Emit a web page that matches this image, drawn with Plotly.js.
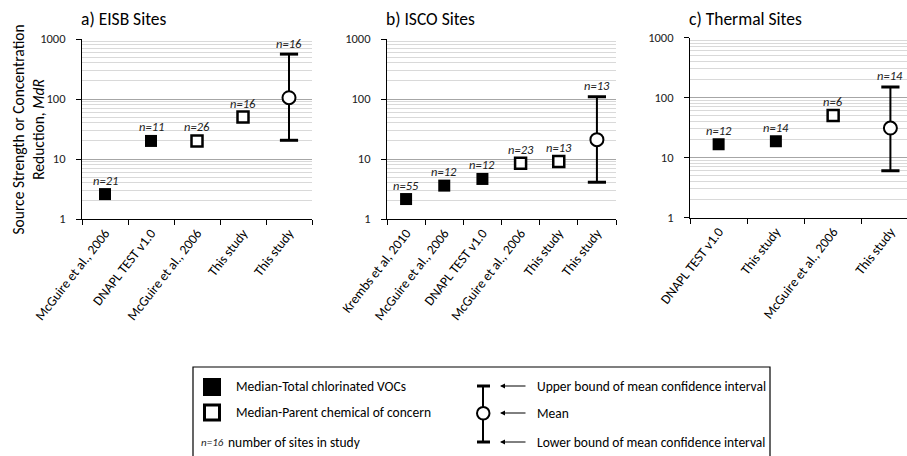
<!DOCTYPE html>
<html>
<head>
<meta charset="utf-8">
<script src="https://cdn.plot.ly/plotly-3.0.1.min.js"></script>
<style>html,body{margin:0;padding:0;background:#fff;}#chart{width:907px;height:456px;}</style>
</head>
<body>
<div id="chart"></div>
<script>
// ---- data ----
const catsA = ["McGuire et al., 2006", "DNAPL TEST v1.0", "McGuire et al., 2006", "This study", "This study"];
const typesA = ["total", "total", "parent", "parent", "mean"];
const valsA = [2.6, 20, 20, 50, 105];
const upperA = [null, null, null, null, 560];
const lowerA = [null, null, null, null, 20.5];
const nA = [21, 11, 26, 16, 16];

const catsB = ["Krembs et al, 2010", "McGuire et al., 2006", "DNAPL TEST v1.0", "McGuire et al., 2006", "This study", "This study"];
const typesB = ["total", "total", "total", "parent", "parent", "mean"];
const valsB = [2.15, 3.6, 4.65, 8.5, 9.1, 21];
const upperB = [null, null, null, null, null, 109];
const lowerB = [null, null, null, null, null, 4.1];
const nB = [55, 12, 12, 23, 13, 13];

const catsC = ["DNAPL TEST v1.0", "This study", "McGuire et al., 2006", "This study"];
const typesC = ["total", "total", "parent", "mean"];
const valsC = [16.7, 18.7, 50, 31];
const upperC = [null, null, null, 150];
const lowerC = [null, null, null, 6];
const nC = [12, 14, 6, 14];

const panelTitles = ["a) EISB Sites", "b) ISCO Sites", "c) Thermal Sites"];
const yTickVals = [1, 10, 100, 1000];
const yTickText = ["1", "10", "100", "1000"];
const yTitle = "Source Strength or Concentration<br>Reduction, <i>MdR</i>";
const legendTexts = ["Median-Total chlorinated VOCs", "Median-Parent chemical of concern", "number of sites in study"];
const legendN = "n=16";
const legendBounds = ["Upper bound of mean confidence interval", "Mean", "Lower bound of mean confidence interval"];

// ---- helpers ----
const W = 907, H = 456;
const px = x => x / W;
const py = y => 1 - y / H;
const FONT = "Carlito, Lato, 'Open Sans', sans-serif";
const minorVals = [];
[1, 10, 100].forEach(d => { for (let k = 2; k <= 9; k++) minorVals.push(k * d); });

const panels = [
  {cats: catsA, types: typesA, vals: valsA, up: upperA, lo: lowerA, n: nA, xd: [82, 312], yd: [39, 219], xmax: null},
  {cats: catsB, types: typesB, vals: valsB, up: upperB, lo: lowerB, n: nB, xd: [387, 616], yd: [39, 219], xmax: null},
  {cats: catsC, types: typesC, vals: valsC, up: upperC, lo: lowerC, n: nC, xd: [690, 907], yd: [37.5, 217.5], xmax: 3.29}
];

const traces = [];
const annotations = [];
const layout = {
  width: W, height: H,
  margin: {l: 0, r: 0, t: 0, b: 0},
  paper_bgcolor: "#fff", plot_bgcolor: "#fff",
  showlegend: false,
  font: {family: FONT, color: "#000"},
  shapes: [],
  annotations: annotations
};

panels.forEach((p, i) => {
  const sfx = i === 0 ? "" : String(i + 1);
  const xa = "x" + sfx, ya = "y" + sfx;
  const idx = p.cats.map((_, j) => j);
  const pick = t => idx.filter(j => p.types[j] === t);

  const tot = pick("total"), par = pick("parent"), mean = pick("mean");
  traces.push({
    type: "scatter", mode: "markers", xaxis: xa, yaxis: ya,
    x: tot, y: tot.map(j => p.vals[j]),
    marker: {symbol: "square", size: 12, color: "#000", line: {width: 0}},
    hoverinfo: "skip"
  });
  traces.push({
    type: "scatter", mode: "markers", xaxis: xa, yaxis: ya,
    x: par, y: par.map(j => p.vals[j]),
    marker: {symbol: "square", size: 11, color: "#fff", line: {width: 2.5, color: "#000"}},
    hoverinfo: "skip"
  });
  // confidence-interval caps (thicker than the stem)
  traces.push({
    type: "scatter", mode: "markers", xaxis: xa, yaxis: ya,
    x: mean.concat(mean), y: mean.map(j => p.up[j]).concat(mean.map(j => p.lo[j])),
    marker: {symbol: "line-ew", size: 13, line: {width: 3, color: "#000"}},
    hoverinfo: "skip"
  });
  traces.push({
    type: "scatter", mode: "markers", xaxis: xa, yaxis: ya,
    x: mean, y: mean.map(j => p.vals[j]),
    marker: {symbol: "circle", size: 13, color: "#fff", line: {width: 2, color: "#000"}},
    error_y: {type: "data", symmetric: false,
      array: mean.map(j => p.up[j] - p.vals[j]),
      arrayminus: mean.map(j => p.vals[j] - p.lo[j]),
      color: "#000", thickness: 2, width: 0},
    hoverinfo: "skip"
  });

  const nCat = p.cats.length;
  const xmax = p.xmax !== null ? p.xmax : nCat - 0.5;
  const bounds = [];
  for (let b = -0.5; b <= xmax + 1e-9; b += 1) bounds.push(b);

  layout["xaxis" + sfx] = {
    domain: [px(p.xd[0]), px(p.xd[1])], anchor: ya,
    range: [-0.5, xmax], fixedrange: true,
    tickmode: "array", tickvals: idx, ticktext: p.cats,
    ticks: "", tickangle: -52,
    tickfont: {family: FONT, size: 13.5, color: "#000"},
    showline: true, linecolor: "#000", linewidth: 1,
    showgrid: false, zeroline: false,
    minor: {tickmode: "array", tickvals: bounds, ticks: "outside", ticklen: 5, tickcolor: "#000", tickwidth: 1, showgrid: false}
  };
  layout["yaxis" + sfx] = {
    domain: [py(p.yd[1]), py(p.yd[0])], anchor: xa,
    type: "log", range: [0, 3], fixedrange: true,
    tickmode: "array", tickvals: yTickVals, ticktext: yTickText,
    ticks: "outside", ticklen: 5, tickcolor: "#000", tickwidth: 1,
    ticklabelstandoff: 8,
    tickfont: {family: FONT, size: 12.5, color: "#222"},
    showline: true, linecolor: "#000", linewidth: 1,
    showgrid: true, gridcolor: "#a6a6a6", gridwidth: 1, zeroline: false,
    minor: {tickmode: "array", tickvals: minorVals, ticks: "", showgrid: true, gridcolor: "#d9d9d9", gridwidth: 1}
  };

  // n labels
  idx.forEach(j => {
    const isMean = p.types[j] === "mean";
    const anchorVal = isMean ? p.up[j] : p.vals[j];
    annotations.push({
      xref: xa, yref: ya, x: j, y: Math.log10(anchorVal),
      text: "<i>n=" + p.n[j] + "</i>", showarrow: false,
      yanchor: "middle", yshift: isMean ? 11 : 14,
      font: {family: FONT, size: 12.5, color: "#222"}
    });
  });

  // panel title
  annotations.push({
    xref: "paper", yref: "paper", x: px(p.xd[0] - 3), y: py(19),
    xanchor: "left", yanchor: "middle", showarrow: false,
    text: panelTitles[i], font: {family: FONT, size: 17.5, color: "#000"}
  });
});

// y axis title
annotations.push({
  xref: "paper", yref: "paper", x: px(27.5), y: py(130),
  xanchor: "center", yanchor: "middle", textangle: -90, showarrow: false,
  text: yTitle, font: {family: FONT, size: 15.5, color: "#000"}
});

// ---- legend box ----
const S = layout.shapes;
S.push({type: "rect", xref: "paper", yref: "paper", x0: px(193), x1: px(770), y0: py(367), y1: py(470), line: {color: "#000", width: 1.2}, fillcolor: "rgba(0,0,0,0)"});
S.push({type: "rect", xref: "paper", yref: "paper", x0: px(203), x1: px(221), y0: py(378), y1: py(396), line: {width: 0}, fillcolor: "#000"});
S.push({type: "rect", xref: "paper", yref: "paper", x0: px(204.5), x1: px(219.5), y0: py(405), y1: py(420), line: {color: "#000", width: 3}, fillcolor: "#fff"});
// error-bar glyph
S.push({type: "line", xref: "paper", yref: "paper", x0: px(483), x1: px(483), y0: py(386), y1: py(442), line: {color: "#000", width: 2}});
S.push({type: "line", xref: "paper", yref: "paper", x0: px(477), x1: px(490), y0: py(386), y1: py(386), line: {color: "#000", width: 3}});
S.push({type: "line", xref: "paper", yref: "paper", x0: px(477), x1: px(490), y0: py(442), y1: py(442), line: {color: "#000", width: 3}});
S.push({type: "circle", xref: "paper", yref: "paper", x0: px(477), x1: px(489.5), y0: py(407), y1: py(419.5), line: {color: "#000", width: 2}, fillcolor: "#fff"});

legendTexts.forEach((t, k) => {
  annotations.push({
    xref: "paper", yref: "paper", x: px(k < 2 ? 234 : 226), y: py([386, 412, 442][k]),
    xanchor: "left", yanchor: "middle", showarrow: false,
    text: t, font: {family: FONT, size: 13.5, color: "#000"}
  });
});
annotations.push({
  xref: "paper", yref: "paper", x: px(199), y: py(442),
  xanchor: "left", yanchor: "middle", showarrow: false,
  text: "<i>" + legendN + "</i>", font: {family: FONT, size: 11, color: "#222"}
});
[386, 413, 442].forEach((yy, k) => {
  annotations.push({
    xref: "paper", yref: "paper", x: px(500), y: py(yy),
    axref: "pixel", ayref: "pixel", ax: 27, ay: 0,
    text: "", showarrow: true, arrowhead: 2, arrowsize: 1, arrowwidth: 1, arrowcolor: "#000", standoff: 0
  });
  annotations.push({
    xref: "paper", yref: "paper", x: px(535), y: py(yy),
    xanchor: "left", yanchor: "middle", showarrow: false,
    text: legendBounds[k], font: {family: FONT, size: 13.5, color: "#000"}
  });
});

Plotly.newPlot("chart", traces, layout, {staticPlot: true, displayModeBar: false});
</script>
</body>
</html>
